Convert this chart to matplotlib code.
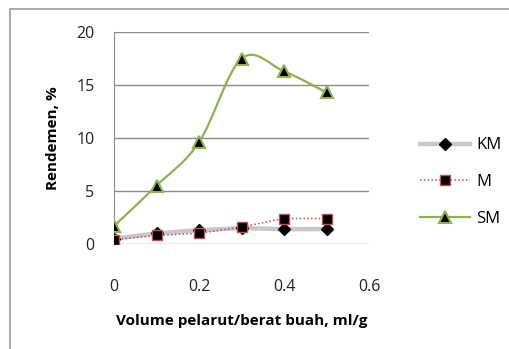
import numpy as np
import matplotlib.pyplot as plt
from matplotlib.path import Path
from matplotlib.patches import PathPatch, Rectangle
from matplotlib.lines import Line2D

ratio = [0, 0.1, 0.2, 0.3, 0.4, 0.5]
km = [0.5, 1.0, 1.3, 1.5, 1.4, 1.4]
m = [0.4, 0.8, 1.0, 1.6, 2.4, 2.4]
sm = [1.7, 5.5, 9.6, 17.5, 16.3, 14.3]
series_names = ["KM", "M", "SM"]
y_ticks = [0, 5, 10, 15, 20]
x_ticks = [0, 0.2, 0.4, 0.6]

plt.rcParams["font.family"] = ["Open Sans", "DejaVu Sans"]

green = "#8fb14f"
red = "#c0504d"


def smooth_path(xs, ys):
    # Excel-like smoothed line: Bezier segments through the data points
    p = np.column_stack([xs, ys]).astype(float)
    n = len(p)
    verts = [p[0]]
    codes = [Path.MOVETO]
    for i in range(n - 1):
        p0 = p[i - 1] if i > 0 else p[i]
        p3 = p[i + 2] if i + 2 < n else p[i + 1]
        c1 = p[i] + (p[i + 1] - p0) / 6
        c2 = p[i + 1] - (p3 - p[i]) / 6
        verts += [c1, c2, p[i + 1]]
        codes += [Path.CURVE4] * 3
    return Path(verts, codes)


fig = plt.figure(figsize=(5.09, 3.49), dpi=100)
ax = fig.add_axes([0.224, 0.301, 0.501, 0.607])

ax.plot(ratio, km, color="#c8c8c8", lw=3.2, zorder=2)
ax.plot(ratio, km, ls="none", marker="D", ms=6, mfc="black", mec="black", zorder=5)

ax.plot(ratio, m, color=red, lw=1.1, ls=(0, (1, 1.5)), zorder=3)
ax.plot(ratio, m, ls="none", marker="s", ms=7, mfc="black", mec=red,
        mew=1.0, zorder=6)

ax.add_patch(PathPatch(smooth_path(ratio, sm), fc="none", ec=green, lw=1.6, zorder=4))
ax.plot(ratio, sm, ls="none", marker="^", ms=8, mfc="black", mec=green,
        mew=1.5, zorder=7)

ax.set_xlim(0, 0.6)
ax.set_ylim(0, 20)
ax.set_xticks(x_ticks)
ax.set_xticklabels(["0", "0.2", "0.4", "0.6"])
ax.set_yticks(y_ticks)
ax.grid(axis="y", color="#8c8c8c", lw=1.0)
ax.set_axisbelow(True)
for s in ["top", "right", "bottom"]:
    ax.spines[s].set_visible(False)
ax.spines["left"].set_color("#8c8c8c")
ax.tick_params(length=0, labelsize=11.5, colors="#222222")
ax.tick_params(axis="x", pad=25)
ax.tick_params(axis="y", pad=14)

ax.set_ylabel("Rendemen, %", fontsize=11, fontweight="bold", labelpad=12)
ax.set_xlabel("Volume pelarut/berat buah, ml/g", fontsize=11,
              fontweight="bold", labelpad=14)

handles = [
    Line2D([], [], color="#c8c8c8", lw=3.2, marker="D", ms=6, mfc="black", mec="black"),
    Line2D([], [], color=red, lw=1.1, ls=(0, (1, 1.5)), marker="s", ms=7,
           mfc="black", mec=red),
    Line2D([], [], color=green, lw=1.6, marker="^", ms=8, mfc="black",
           mec=green, mew=1.5),
]
fig.legend(handles, series_names, loc="center left", bbox_to_anchor=(0.795, 0.478),
           frameon=False, fontsize=12, handlelength=3.0, labelspacing=1.25,
           handletextpad=0.4)

fig.patches.append(Rectangle((10 / 509, -0.2), 1.2, 1 - 9 / 349 + 0.2,
                             transform=fig.transFigure, fill=False,
                             ec="#9a9a9a", lw=1.2))

fig.savefig("out.png", dpi=100)
